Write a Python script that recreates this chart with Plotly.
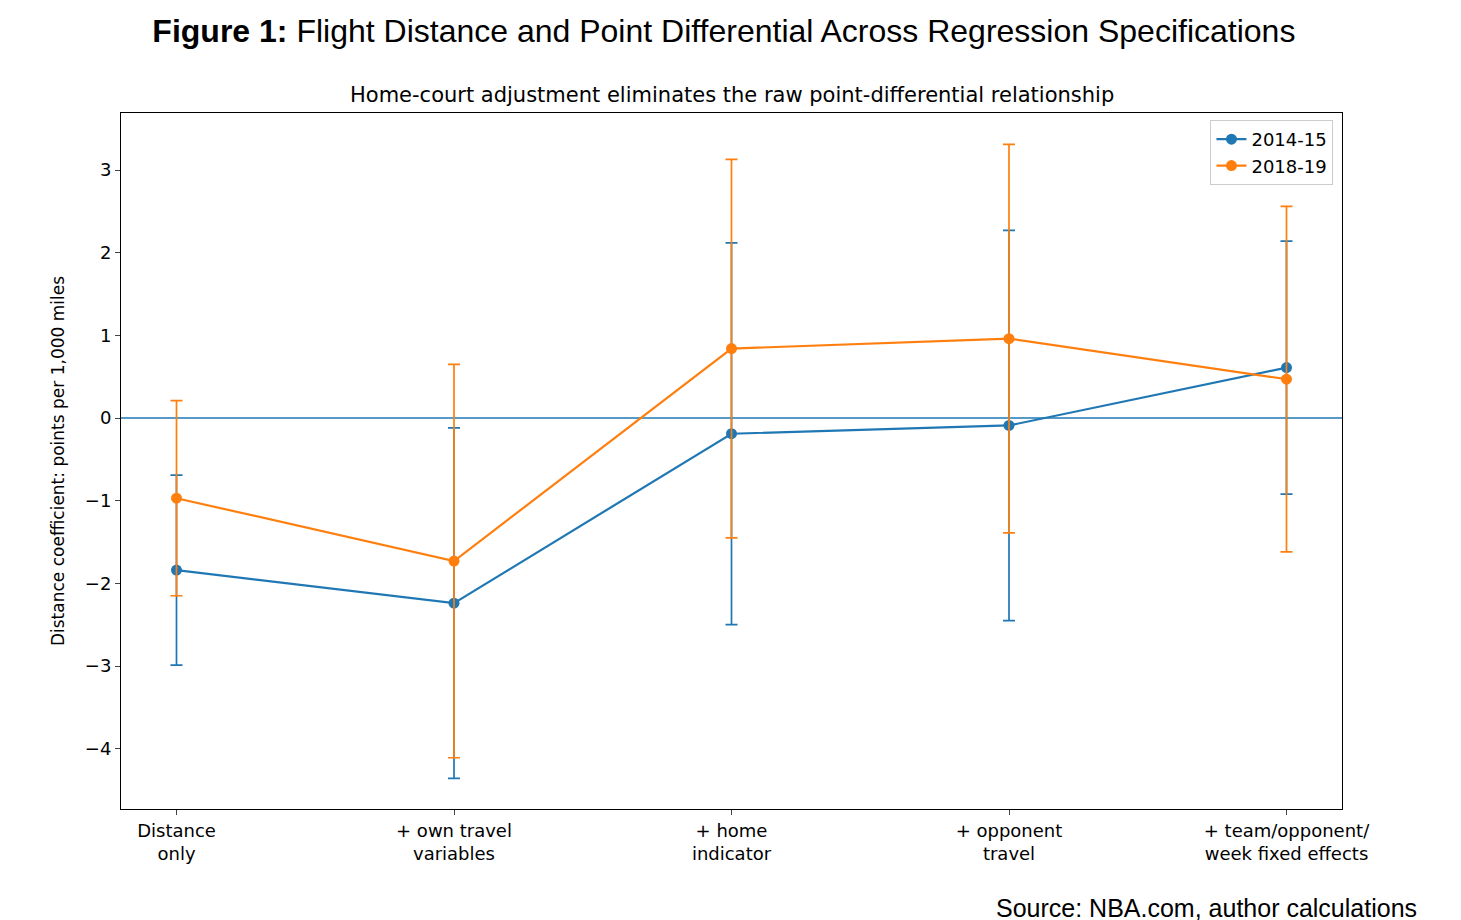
import plotly.graph_objects as go

specs = ["Distance<br>only", "+ own travel<br>variables", "+ home<br>indicator",
         "+ opponent<br>travel", "+ team/opponent/<br>week fixed effects"]
coef_1415 = [-1.84, -2.24, -0.19, -0.09, 0.61]
err_1415 = [1.15, 2.12, 2.31, 2.36, 1.53]
coef_1819 = [-0.97, -1.73, 0.84, 0.96, 0.47]
err_1819 = [1.18, 2.38, 2.29, 2.35, 2.09]

BLUE = '#1f77b4'
ORANGE = '#ff7f0e'
x = list(range(len(specs)))

fig = go.Figure()
for name, y, e, c in [("2014-15", coef_1415, err_1415, BLUE),
                      ("2018-19", coef_1819, err_1819, ORANGE)]:
    fig.add_trace(go.Scatter(
        x=x, y=y, name=name, mode='lines+markers',
        line=dict(color=c, width=2.2), marker=dict(color=c, size=11),
        error_y=dict(type='data', array=e, color=c, thickness=1.7, width=6),
    ))

fig.add_hline(y=0, line_color=BLUE, line_width=1.5, layer='below')

fig.update_layout(
    width=1461, height=920,
    paper_bgcolor='white', plot_bgcolor='white',
    margin=dict(l=113, r=127, t=105, b=119),
    font=dict(family='DejaVu Sans', size=18, color='black'),
    title=dict(text="<b>Figure 1:</b> Flight Distance and Point Differential Across Regression Specifications",
               font=dict(family='Liberation Sans, Arial', size=32), x=0.49, xanchor='center',
               y=0.975, yanchor='middle'),
    legend=dict(x=0.993, y=0.99, xanchor='right', yanchor='top', bordercolor='#cccccc',
                borderwidth=1, font=dict(size=18)),
    showlegend=True,
)
fig.add_annotation(text="Home-court adjustment eliminates the raw point-differential relationship",
                   xref='paper', yref='paper', x=0.5, y=1.0, yanchor='bottom', yshift=4,
                   showarrow=False, font=dict(size=21))
fig.add_annotation(text="Source: NBA.com, author calculations", xref='paper', yref='paper',
                   x=1.063, y=-0.142, xanchor='right', yanchor='middle', showarrow=False,
                   font=dict(family='Liberation Sans, Arial', size=25))

fig.update_xaxes(tickvals=x, ticktext=specs, range=[-0.2, 4.2], showline=True, mirror=True,
                 linecolor='black', ticks='outside', showgrid=False, zeroline=False)
fig.update_yaxes(range=[-4.73, 3.69], dtick=1, showline=True, mirror=True, linecolor='black',
                 ticks='outside', showgrid=False, zeroline=False,
                 title_text="Distance coefficient: points per 1,000 miles",
                 title_font=dict(size=17), tickformat='d')

fig.write_html("out.html")
